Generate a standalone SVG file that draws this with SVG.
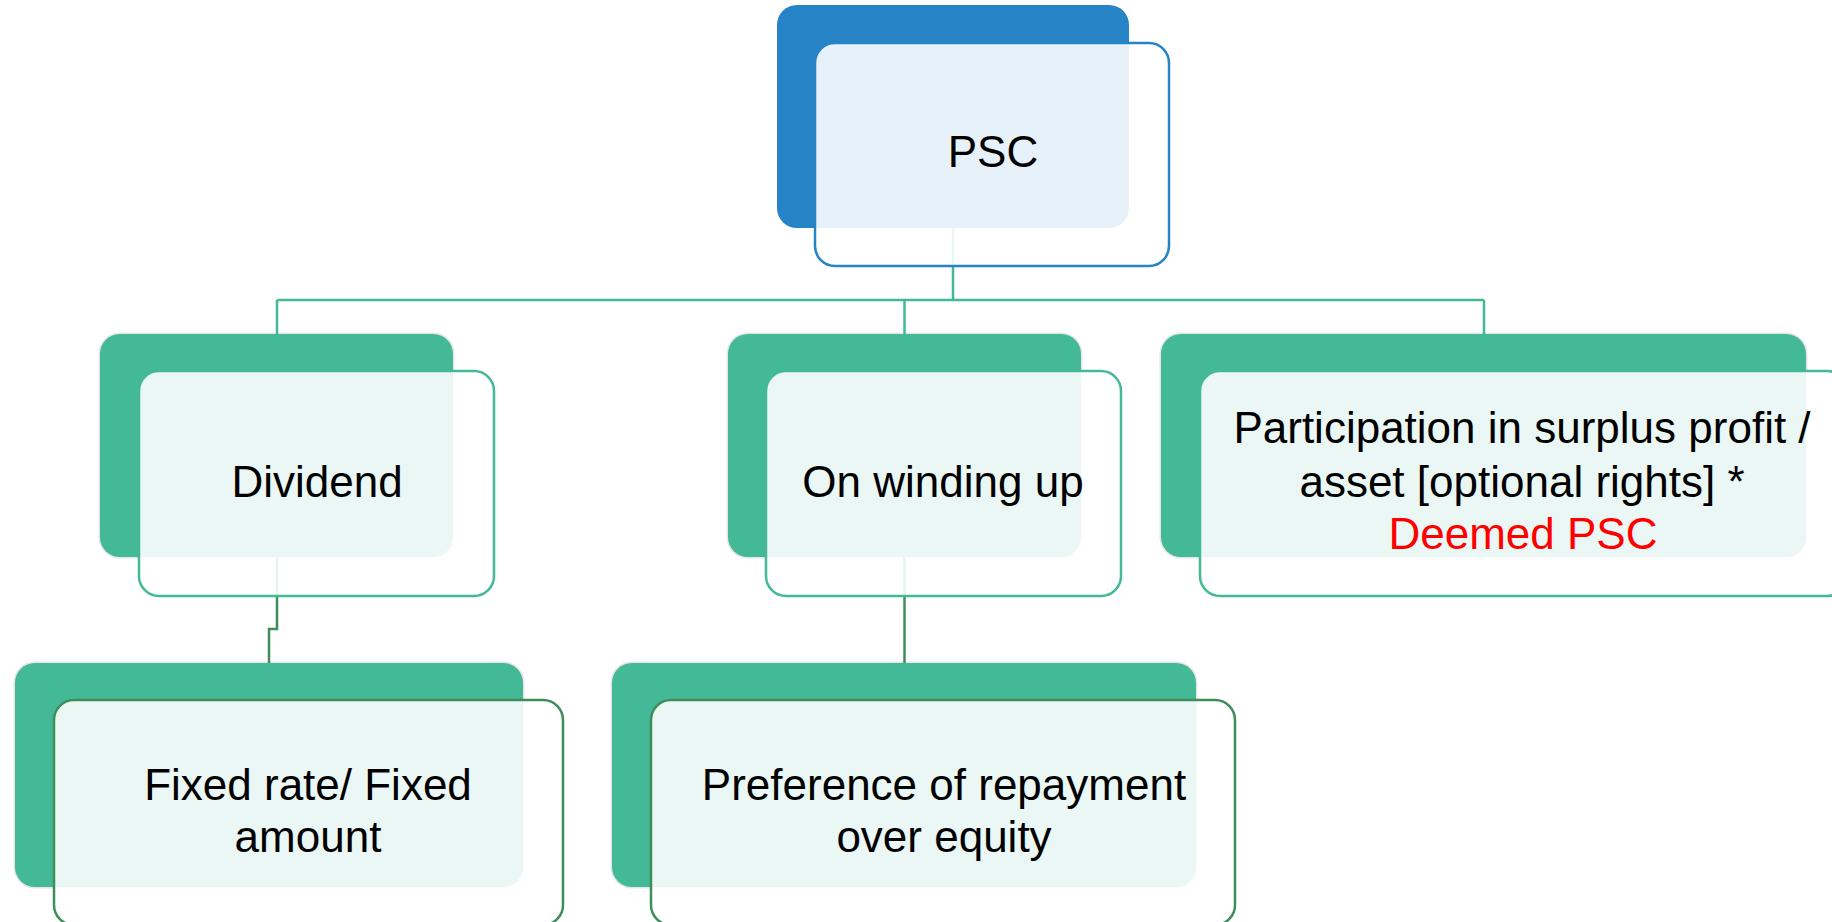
<svg xmlns="http://www.w3.org/2000/svg" width="1832" height="922" viewBox="0 0 1832 922">
  <style>
    .back-blue { fill: #2683c6; }
    .back-green { fill: #44b997; stroke: #e6e6e6; stroke-width: 3; paint-order: stroke; }
    .front-blue { fill: #ffffff; fill-opacity: 0.89; stroke: #2683c6; stroke-width: 2.5; }
    .front-green { fill: #ffffff; fill-opacity: 0.89; stroke: #44b997; stroke-width: 2.5; }
    .front-dark { fill: #ffffff; fill-opacity: 0.89; stroke: #3e8e5b; stroke-width: 2.5; }
    .lbl { font-family: "Liberation Sans", Arial, sans-serif; font-size: 44px; fill: #000000; text-anchor: middle; }
    .red { fill: #ff0000; }
    .conn-top { fill: none; stroke: #44b997; stroke-width: 2.5; }
    .conn-low { fill: none; stroke: #3e8e5b; stroke-width: 2.5; }
  </style>

  <!-- back (coloured) plates -->
  <g id="plates">
    <rect class="back-blue" x="777" y="5" width="352" height="223" rx="20"/>
    <rect class="back-green" x="100" y="334" width="353" height="223" rx="20"/>
    <rect class="back-green" x="728" y="334" width="353" height="223" rx="20"/>
    <rect class="back-green" x="1161" y="334" width="645" height="223" rx="20"/>
    <rect class="back-green" x="15" y="663" width="508" height="224" rx="20"/>
    <rect class="back-green" x="612" y="663" width="584" height="224" rx="20"/>
  </g>

  <!-- connectors -->
  <g id="connectors">
    <path class="conn-top" d="M953,228 V300 M277,300 H1484 M277,300 V334 M904.5,300 V334 M1484,300 V334"/>
    <path class="conn-low" d="M277,557 V629 H269 V663"/>
    <path class="conn-low" d="M904.5,557 V663"/>
  </g>

  <g id="node-psc">
    <rect class="front-blue" x="815" y="43" width="354" height="223" rx="20"/>
    <text class="lbl" x="993" y="167">PSC</text>
  </g>

  <g id="node-dividend">
    <rect class="front-green" x="139" y="371" width="355" height="225" rx="20"/>
    <text class="lbl" x="317" y="497">Dividend</text>
  </g>

  <g id="node-winding-up">
    <rect class="front-green" x="766" y="371" width="355" height="225" rx="20"/>
    <text class="lbl" x="943" y="497">On winding up</text>
  </g>

  <g id="node-participation">
    <rect class="front-green" x="1200" y="371" width="647" height="225" rx="20"/>
    <text class="lbl" x="1522" y="443">Participation in surplus profit /</text>
    <text class="lbl" x="1522" y="497">asset [optional rights] *</text>
    <text class="lbl red" x="1523" y="549">Deemed PSC</text>
  </g>

  <g id="node-fixed">
    <rect class="front-dark" x="54" y="700" width="509" height="225" rx="20"/>
    <text class="lbl" x="308" y="800">Fixed rate/ Fixed</text>
    <text class="lbl" x="308" y="852">amount</text>
  </g>

  <g id="node-preference">
    <rect class="front-dark" x="651" y="700" width="584" height="225" rx="20"/>
    <text class="lbl" x="944" y="800">Preference of repayment</text>
    <text class="lbl" x="944" y="852">over equity</text>
  </g>
</svg>
